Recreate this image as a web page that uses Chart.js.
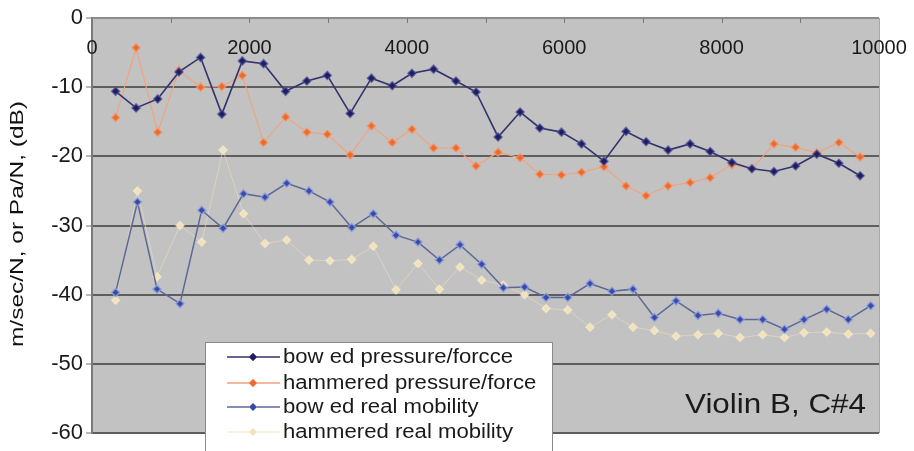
<!DOCTYPE html>
<html>
<head>
<meta charset="utf-8">
<script src="https://cdn.jsdelivr.net/npm/chart.js@4/dist/chart.umd.min.js"></script>
<style>
  html, body { margin: 0; padding: 0; background: #ffffff; }
  #wrap { width: 914px; height: 451px; position: relative; }
</style>
</head>
<body>
<div id="wrap"><canvas id="c" width="914" height="451"></canvas></div>
<script>
// Frequencies (Hz) of the measured partials
const freqPressure = [300, 560, 835, 1105, 1380, 1650, 1910, 2180, 2460, 2730, 2990, 3280,
  3550, 3815, 4065, 4340, 4625, 4880, 5160, 5440, 5690, 5965, 6220, 6505,
  6785, 7040, 7320, 7600, 7855, 8130, 8385, 8665, 8940, 9210, 9490, 9760];
const freqMobility = [300, 578, 826, 1118, 1394, 1665, 1925, 2198, 2474, 2757, 3024, 3300,
  3574, 3863, 4142, 4415, 4676, 4951, 5226, 5496, 5769, 6045, 6328, 6607,
  6874, 7147, 7421, 7700, 7958, 8234, 8522, 8799, 9047, 9335, 9610, 9895];

// Levels in dB
const bowedPressure = [-10.6, -13.0, -11.7, -7.8, -5.7, -13.9, -6.2, -6.6, -10.6, -9.1, -8.3, -13.8,
  -8.7, -9.8, -8.0, -7.4, -9.1, -10.7, -17.2, -13.6, -15.9, -16.5, -18.2, -20.7,
  -16.4, -17.9, -19.1, -18.2, -19.3, -20.9, -21.8, -22.2, -21.4, -19.7, -21.0, -22.8];
const hammeredPressure = [-14.4, -4.3, -16.5, -7.6, -10.0, -9.9, -8.3, -18.0, -14.3, -16.5, -16.8, -19.8,
  -15.6, -18.0, -16.1, -18.8, -18.8, -21.4, -19.4, -20.2, -22.6, -22.7, -22.3, -21.5,
  -24.3, -25.7, -24.3, -23.8, -23.1, -21.2, -21.8, -18.2, -18.7, -19.5, -18.0, -20.1];
const bowedMobility = [-39.7, -26.6, -39.2, -41.3, -27.8, -30.4, -25.4, -25.9, -23.9, -25.0, -26.6, -30.3,
  -28.3, -31.4, -32.4, -35.0, -32.8, -35.6, -39.0, -38.9, -40.4, -40.4, -38.4, -39.5,
  -39.2, -43.3, -40.9, -43.0, -42.7, -43.6, -43.6, -45.0, -43.6, -42.1, -43.6, -41.6];
const hammeredMobility = [-40.8, -25.0, -37.4, -30.0, -32.4, -19.1, -28.3, -32.6, -32.1, -35.0, -35.1, -34.9,
  -33.0, -39.3, -35.5, -39.2, -36.0, -37.9, -38.6, -40.0, -42.0, -42.2, -44.7, -42.9,
  -44.7, -45.2, -46.0, -45.8, -45.6, -46.2, -45.8, -46.2, -45.5, -45.4, -45.7, -45.6];

const seriesNames = ['bow ed pressure/forcce', 'hammered pressure/force', 'bow ed real mobility', 'hammered real mobility'];
const xTickValues = [0, 2000, 4000, 6000, 8000, 10000];
const xMinorTicks = [1000, 2000, 3000, 4000, 5000, 6000, 7000, 8000, 9000];
const yTitle = 'm/sec/N, or Pa/N, (dB)';
const caption = 'Violin B, C#4';

const FONT = "'Liberation Sans', Arial, Helvetica, sans-serif";

function pairs(xs, ys) { return ys.map((y, i) => ({ x: xs[i], y })); }

// Draws text horizontally stretched so that it spans the given width
function wideText(ctx, text, x, y, width) {
  const w = ctx.measureText(text).width;
  ctx.save();
  ctx.translate(x, y);
  ctx.scale(width / w, 1);
  ctx.fillText(text, 0, 0);
  ctx.restore();
}

// Grey plot panel, top axis with inward ticks and its labels, axis title, legend box and caption
const panel = {
  id: 'panel',
  beforeDraw(chart) {
    const { ctx, chartArea: a } = chart;
    ctx.save();
    ctx.fillStyle = '#c2c2c2';
    ctx.fillRect(a.left, a.top, a.right - a.left, a.bottom - a.top);
    ctx.strokeStyle = '#a8a8a8';
    ctx.lineWidth = 1;
    ctx.beginPath();
    ctx.moveTo(a.right + 0.5, a.top);
    ctx.lineTo(a.right + 0.5, a.bottom);
    ctx.stroke();
    // rotated y-axis title
    ctx.fillStyle = '#111';
    ctx.font = '19px ' + FONT;
    ctx.textAlign = 'left';
    ctx.textBaseline = 'middle';
    ctx.translate(18, 224);
    ctx.rotate(-Math.PI / 2);
    wideText(ctx, yTitle, -123, 0, 246);
    ctx.restore();
  },
  beforeDatasetsDraw(chart) {
    const { ctx, chartArea: a, scales } = chart;
    const xs = scales.x;
    ctx.save();
    ctx.strokeStyle = '#8c8c8c';
    ctx.lineWidth = 2;
    ctx.beginPath();
    ctx.moveTo(a.left, a.top);
    ctx.lineTo(a.right, a.top);
    ctx.stroke();
    ctx.strokeStyle = '#777';
    ctx.lineWidth = 1;
    xMinorTicks.forEach(v => {
      const px = Math.round(xs.getPixelForValue(v)) + 0.5;
      ctx.beginPath();
      ctx.moveTo(px, a.top);
      ctx.lineTo(px, a.top + 5);
      ctx.stroke();
    });
    ctx.fillStyle = '#1a1a1a';
    ctx.font = '20px ' + FONT;
    ctx.textAlign = 'center';
    ctx.textBaseline = 'middle';
    xTickValues.forEach(v => {
      ctx.fillText(String(v), xs.getPixelForValue(v), a.top + 30);
    });
    ctx.restore();
  },
  afterDraw(chart) {
    const { ctx } = chart;
    ctx.save();
    // legend box
    const bx = 205, by = 342, bw = 347, bh = 120;
    ctx.fillStyle = '#ffffff';
    ctx.fillRect(bx, by, bw, bh);
    ctx.strokeStyle = '#8a8a8a';
    ctx.lineWidth = 1;
    ctx.strokeRect(bx + 0.5, by + 0.5, bw, bh);
    const rows = [357, 383, 407, 432];
    ctx.font = '20px ' + FONT;
    ctx.textAlign = 'left';
    ctx.textBaseline = 'middle';
    const stretch = 230 / ctx.measureText(chart.data.datasets[0].label).width;
    chart.data.datasets.forEach((ds, i) => {
      const y = rows[i];
      ctx.strokeStyle = ds.borderColor;
      ctx.lineWidth = 1.5;
      ctx.beginPath();
      ctx.moveTo(227, y);
      ctx.lineTo(280, y);
      ctx.stroke();
      ctx.fillStyle = ds.pointBackgroundColor;
      ctx.strokeStyle = ds.pointBorderColor;
      ctx.lineWidth = 1;
      ctx.beginPath();
      ctx.moveTo(253, y - 4); ctx.lineTo(257, y); ctx.lineTo(253, y + 4); ctx.lineTo(249, y);
      ctx.closePath();
      ctx.fill();
      ctx.stroke();
      ctx.fillStyle = '#1a1a1a';
      const w = ctx.measureText(ds.label).width * stretch;
      wideText(ctx, ds.label, 283, y, w);
    });
    // caption
    ctx.font = '28px ' + FONT;
    ctx.fillStyle = '#1a1a1a';
    ctx.textBaseline = 'alphabetic';
    wideText(ctx, caption, 685, 413, 181);
    ctx.restore();
  }
};

new Chart(document.getElementById('c'), {
  type: 'line',
  data: {
    datasets: [
      {
        label: seriesNames[0],
        data: pairs(freqPressure, bowedPressure),
        borderColor: '#33336f', borderWidth: 1.6,
        pointStyle: 'rectRot', pointRadius: 4,
        pointBackgroundColor: '#1e1e62', pointBorderColor: 'rgba(80,80,150,0.7)', pointBorderWidth: 1.5,
        order: 1
      },
      {
        label: seriesNames[1],
        data: pairs(freqPressure, hammeredPressure),
        borderColor: '#f2a27a', borderWidth: 1.1,
        pointStyle: 'rectRot', pointRadius: 4,
        pointBackgroundColor: '#ec6a2c', pointBorderColor: 'rgba(246,150,105,0.7)', pointBorderWidth: 1.5,
        order: 2
      },
      {
        label: seriesNames[2],
        data: pairs(freqMobility, bowedMobility),
        borderColor: '#5c6896', borderWidth: 1.5,
        pointStyle: 'rectRot', pointRadius: 4,
        pointBackgroundColor: '#3a4aa6', pointBorderColor: 'rgba(140,160,225,0.8)', pointBorderWidth: 1.5,
        order: 3
      },
      {
        label: seriesNames[3],
        data: pairs(freqMobility, hammeredMobility),
        borderColor: 'rgba(238,222,190,0.6)', borderWidth: 1,
        pointStyle: 'rectRot', pointRadius: 4,
        pointBackgroundColor: '#f3e2b6', pointBorderColor: 'rgba(248,236,210,0.6)', pointBorderWidth: 1.5,
        order: 4
      }
    ]
  },
  options: {
    responsive: false,
    animation: false,
    devicePixelRatio: 1,
    layout: { padding: { top: 18, right: 35, bottom: 18, left: 0 } },
    plugins: { legend: { display: false }, tooltip: { enabled: false } },
    scales: {
      x: { type: 'linear', min: 0, max: 10000, display: false },
      y: {
        min: -60, max: 0,
        ticks: { stepSize: 10, color: '#1a1a1a', padding: 3, font: { size: 22, family: FONT } },
        grid: {
          color: c => (c.tick && c.tick.value === 0) ? 'rgba(0,0,0,0)' : '#5e5e5e',
          lineWidth: 2, tickLength: 6, tickColor: '#707070', tickWidth: 1
        },
        border: { color: '#7a7a7a', width: 2 },
        afterFit(scale) { scale.width = 92; }
      }
    }
  },
  plugins: [panel]
});
</script>
</body>
</html>
